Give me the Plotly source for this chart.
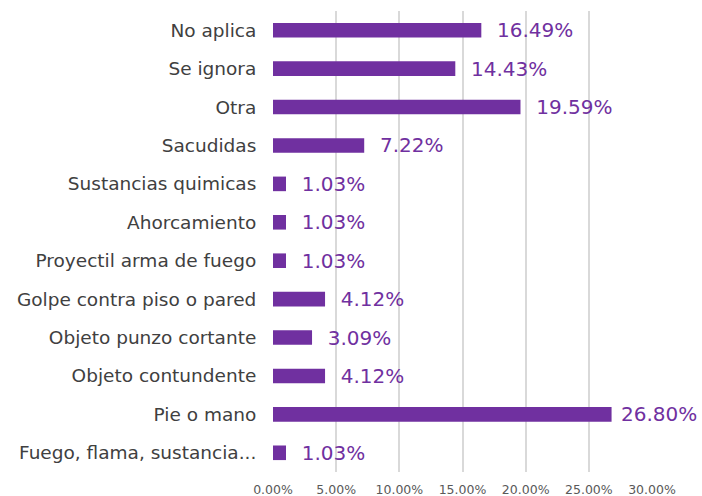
import plotly.graph_objects as go

categories = ["No aplica", "Se ignora", "Otra", "Sacudidas", "Sustancias quimicas",
              "Ahorcamiento", "Proyectil arma de fuego", "Golpe contra piso o pared",
              "Objeto punzo cortante", "Objeto contundente", "Pie o mano",
              "Fuego, flama, sustancia..."]
values = [16.49, 14.43, 19.59, 7.22, 1.03, 1.03, 1.03, 4.12, 3.09, 4.12, 26.80, 1.03]
tick_vals = [0, 5, 10, 15, 20, 25, 30]
tick_text = ["0.00%", "5.00%", "10.00%", "15.00%", "20.00%", "25.00%", "30.00%"]

purple = "#7030A0"
font_family = "DejaVu Sans"

labels = [(" %.2f%%" % v) if v > 25 else ("  %.2f%%" % v) for v in values]

fig = go.Figure(go.Bar(
    y=categories, x=values, orientation="h",
    marker=dict(color=purple, line=dict(width=0)),
    text=labels,
    textposition="outside", cliponaxis=False, constraintext="none",
    textfont=dict(color=purple, size=20, family=font_family),
    width=0.38,
))

fig.update_layout(
    width=702, height=496,
    margin=dict(l=273, r=50, t=11, b=24),
    plot_bgcolor="white", paper_bgcolor="white",
    showlegend=False,
    font=dict(family=font_family),
    xaxis=dict(range=[0, 30], tickvals=tick_vals, ticktext=tick_text,
               showgrid=True, gridcolor="#d9d9d9", gridwidth=2,
               zeroline=False, showline=False,
               tickfont=dict(size=12.5, color="#595959"), automargin=False,
               ticks="outside", ticklen=6, tickcolor="rgba(0,0,0,0)"),
    yaxis=dict(categoryorder="array", categoryarray=categories[::-1],
               tickfont=dict(size=18.5, color="#404040"), automargin=False,
               ticks="outside", ticklen=12, tickcolor="rgba(0,0,0,0)",
               showline=False, range=[-0.5, 11.5]),
)

fig.write_html("out.html", config={"displayModeBar": False},
               post_script="document.body.style.margin='0';document.body.style.overflow='hidden';")
